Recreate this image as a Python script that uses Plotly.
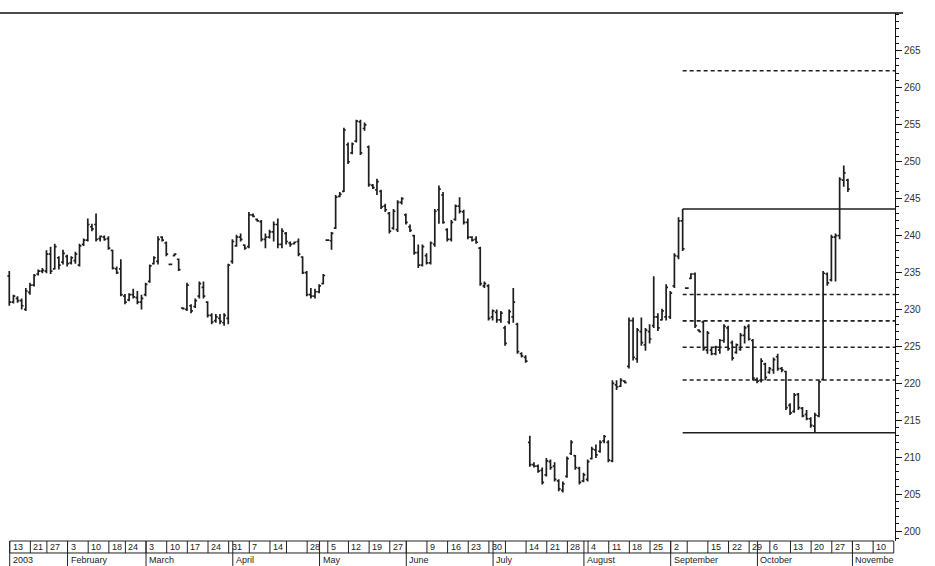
import pandas as pd
import plotly.graph_objects as go

# ---------------- data ----------------
holidays = ["2003-01-20", "2003-02-17", "2003-04-18", "2003-05-26", "2003-07-04", "2003-09-01"]
trading_days = pd.bdate_range("2003-01-13", "2003-11-14")
trading_days = trading_days[~trading_days.isin(pd.to_datetime(holidays))]

high = [
    235.2, 232.0, 231.8, 231.5, 232.9, 233.6, 234.8, 235.4, 235.6, 238.0,
    238.5, 238.9, 237.2, 238.1, 237.4, 237.2, 237.8, 238.9, 239.6, 242.3,
    241.6, 243.0, 240.0, 240.0, 239.9, 238.1, 235.8, 236.8, 232.1, 232.2,
    232.8, 232.5, 232.0, 233.6, 236.1, 237.2, 239.9, 239.9, 239.2, 236.2,
    237.6, 236.9, 230.3, 233.6, 230.7, 231.5, 233.8, 233.8, 231.1, 229.5,
    229.4, 229.4, 229.5, 236.2, 239.5,
    240.1, 240.3, 238.8, 243.2, 243.0, 242.3, 242.1, 240.3, 240.8, 241.9,
    242.3, 241.0, 240.5, 239.2, 239.2, 239.6, 237.2, 235.2, 232.9, 232.8,
    233.4, 234.8, 239.5, 240.5, 245.5, 245.9, 254.6, 252.6, 252.6, 255.7,
    255.7, 255.3, 252.2, 247.0, 247.7, 246.2, 244.3, 243.2, 243.6, 244.8,
    245.2, 243.0, 241.5, 240.1, 238.8, 238.8, 237.6, 239.2, 243.6, 246.8,
    245.9, 241.0, 242.1, 244.2, 245.2, 243.5, 242.3, 239.9, 239.9, 238.5,
    233.8, 233.4, 230.0, 230.0, 229.8, 227.8, 230.0, 232.9, 228.2, 224.2,
    223.8,
    212.9, 209.3, 209.0, 208.6, 209.9, 209.7, 209.3, 207.0, 206.7,
    210.1, 212.3, 210.3, 208.7, 207.9, 209.7, 211.4, 211.7, 212.3, 213.0,
    212.3, 220.4, 220.4, 220.7, 220.4, 228.9, 228.9, 227.5, 228.9, 227.5,
    228.0, 234.5, 229.5, 230.1, 233.4, 232.5, 237.6, 242.5, 243.6,
    233.0, 234.9, 235.0, 227.3, 228.5, 227.1, 224.8, 225.1, 226.0, 228.0,
    227.8, 225.8, 225.4, 226.8, 227.8, 228.0, 226.0, 220.8, 223.4, 222.8,
    222.2, 223.5, 224.0, 222.2, 221.7, 217.3, 218.7, 218.7, 216.8, 216.4,
    215.4, 216.0, 220.4, 235.2, 235.0, 240.1, 240.3, 247.9, 249.5, 247.7,
]
low = [
    230.5, 230.8, 230.9, 230.0, 229.8, 232.0, 233.1, 234.6, 234.9, 234.9,
    234.8, 235.4, 235.4, 236.1, 235.8, 236.1, 236.2, 235.8, 238.6, 239.2,
    240.6, 239.2, 239.2, 239.3, 238.1, 235.4, 234.8, 231.8, 230.7, 231.1,
    231.5, 230.7, 230.0, 231.8, 233.6, 236.1, 236.1, 239.2, 237.2, 236.0,
    237.2, 235.2, 230.0, 229.8, 229.5, 230.2, 231.5, 231.5, 228.9, 228.0,
    228.2, 228.0, 227.8, 228.0, 236.2,
    238.5, 239.2, 238.1, 238.3, 242.5, 241.9, 239.2, 238.3, 239.6, 239.2,
    238.3, 238.3, 238.8, 238.5, 238.8, 237.2, 234.8, 231.8, 231.5, 231.5,
    232.2, 233.4, 239.3, 238.1, 240.9, 245.2, 245.9, 249.7, 251.0, 252.6,
    250.9, 254.2, 246.6, 246.3, 245.5, 243.6, 243.2, 240.3, 240.8, 240.5,
    244.2, 241.5, 240.5, 237.4, 235.6, 235.8, 236.1, 236.1, 238.5, 241.6,
    241.6, 239.2, 239.2, 242.0, 243.0, 241.5, 239.5, 239.2, 238.9, 233.2,
    232.9, 228.5, 228.5, 228.2, 228.2, 225.1, 228.0, 228.2, 224.0, 223.5,
    222.8,
    208.7, 208.6, 207.9, 206.3, 207.4, 208.3, 206.7, 205.4, 205.2,
    207.2, 210.3, 208.3, 206.3, 206.6, 206.7, 209.7, 209.9, 210.6, 211.9,
    209.3, 209.3, 219.1, 219.5, 220.0, 222.0, 223.1, 222.8, 225.1, 224.4,
    225.4, 227.5, 227.1, 228.5, 228.5, 228.7, 232.9, 236.8, 237.9,
    232.8, 234.1, 227.5, 226.9, 224.4, 224.0, 223.8, 223.8, 224.0, 225.5,
    224.4, 223.1, 224.0, 224.4, 225.4, 225.8, 220.4, 220.0, 220.1, 220.4,
    221.3, 221.3, 221.7, 221.5, 216.4, 215.7, 216.0, 216.4, 215.4, 215.0,
    214.0, 213.3, 215.4, 220.4, 233.2, 233.8, 233.8, 239.5, 246.6, 245.9,
]
open_ = [
    234.5, 231.0, 231.5, 231.2, 230.0, 232.3, 233.3, 234.8, 235.2, 235.2,
    237.5, 235.5, 237.0, 236.4, 237.2, 236.3, 236.6, 236.0, 238.8, 239.4,
    241.2, 241.5, 239.6, 239.8, 239.6, 238.0, 235.5, 235.5, 231.8, 231.3,
    232.0, 231.6, 231.0, 232.0, 233.8, 236.2, 236.5, 239.8, 239.0, 236.1,
    237.3, 236.8, 230.2, 230.0, 230.5, 230.4, 231.8, 233.0, 231.0, 229.2,
    228.5, 228.8, 228.2, 228.8, 236.5,
    238.6, 239.8, 238.7, 238.5, 242.8, 242.2, 241.9, 239.5, 239.8, 240.5,
    241.5, 238.8, 240.3, 239.0, 238.9, 239.2, 237.1, 235.0, 232.0, 231.8,
    232.4, 233.5, 239.4, 239.3, 241.0, 245.3, 246.0, 252.3, 251.2, 252.8,
    255.4, 254.5, 252.0, 246.8, 246.2, 246.0, 244.0, 243.0, 241.0, 240.8,
    244.5, 242.8, 241.2, 240.0, 237.7, 236.0, 237.3, 236.3, 238.8, 243.5,
    245.5, 240.8, 239.5, 242.2, 244.0, 243.2, 241.8, 239.8, 239.5, 238.3,
    233.2, 233.2, 229.0, 229.6, 228.6, 227.5, 228.3, 229.0, 228.0, 224.0,
    223.5,
    212.0, 209.0, 208.8, 208.2, 207.6, 209.4, 208.8, 206.8, 205.5,
    207.4, 210.5, 210.2, 208.5, 206.8, 207.0, 209.8, 211.0, 210.8, 212.2,
    212.0, 209.5, 219.8, 219.6, 220.3, 222.3, 228.5, 223.3, 227.0, 225.2,
    227.0, 227.8, 229.0, 228.6, 229.0, 229.0, 233.2, 237.2, 242.0,
    232.9, 234.2, 234.8, 227.2, 228.3, 224.5, 224.5, 224.0, 224.5, 225.8,
    227.5, 225.5, 224.2, 224.6, 226.5, 227.7, 225.8, 220.5, 220.4, 222.6,
    221.5, 221.8, 223.6, 222.0, 221.6, 217.0, 216.2, 218.5, 216.6, 215.8,
    215.2, 214.2, 215.6, 220.5, 234.8, 234.0, 239.8, 240.0, 247.5, 247.5,
]
close = [
    231.0, 231.8, 231.2, 230.5, 232.5, 233.3, 234.6, 235.2, 235.3, 237.5,
    235.2, 238.5, 236.0, 237.6, 236.2, 237.0, 237.5, 238.6, 239.4, 241.5,
    240.9, 239.5, 239.9, 239.5, 238.3, 235.6, 235.0, 232.0, 231.0, 232.0,
    231.7, 231.0, 231.5, 233.4, 235.9, 237.0, 239.5, 239.4, 237.5, 236.1,
    237.5, 235.4, 230.1, 233.3, 229.8, 231.2, 233.5, 231.8, 229.2, 228.3,
    229.0, 228.4, 229.2, 236.0, 239.2,
    239.8, 239.5, 238.3, 242.8, 242.6, 242.0, 239.5, 239.8, 240.5, 241.5,
    238.8, 240.6, 239.2, 238.8, 239.1, 237.5, 235.0, 232.0, 231.8, 232.4,
    233.2, 234.6, 239.4, 240.3, 245.2, 245.6, 254.3, 250.0, 252.4, 255.5,
    251.2, 255.0, 246.9, 246.5, 247.3, 243.9, 243.5, 240.6, 243.3, 244.5,
    245.0, 241.8, 240.7, 237.7, 236.0, 238.5, 236.3, 239.0, 243.3, 246.3,
    241.8, 239.5, 241.8, 244.0, 243.3, 241.8, 239.8, 239.4, 239.1, 233.5,
    233.5, 228.8, 229.8, 228.6, 229.5, 225.4, 229.7, 231.0, 224.3, 223.7,
    223.0,
    209.0, 208.8, 208.1, 206.6, 209.5, 208.6, 207.0, 205.7, 206.4,
    209.8, 212.0, 208.6, 206.6, 207.6, 209.4, 211.1, 210.3, 212.0, 212.8,
    209.6, 220.0, 219.5, 220.4, 220.1, 228.5, 223.5, 227.2, 225.5, 227.2,
    226.0, 229.0, 227.5, 229.8, 233.0, 232.2, 237.3, 242.0, 238.2,
    232.9, 234.8, 227.8, 227.0, 224.7, 226.8, 224.0, 224.9, 225.8, 227.7,
    224.7, 223.4, 225.2, 226.5, 227.5, 226.0, 220.7, 220.3, 223.0, 220.8,
    222.0, 223.2, 222.0, 221.8, 216.7, 216.0, 218.4, 216.7, 215.6, 215.2,
    214.3, 215.7, 220.2, 234.9, 233.6, 239.8, 240.0, 247.6, 248.5, 246.3,
]

dates = trading_days[:len(close)]

# Fibonacci retracement ratios drawn from the September swing high to the October low
fib_ratios = [0.382, 0.5, 0.618, 0.764]
fib_extension = [1.618]

y_tick_values = list(range(200, 266, 5))

week_labels = ["13", "21", "27", "3", "10", "18", "24", "3", "10", "17", "24", "31", "7", "14", "",
               "28", "5", "12", "19", "27", "", "9", "16", "23", "30", "", "14", "21", "28", "4",
               "11", "18", "25", "2", "", "15", "22", "29", "6", "13", "20", "27", "3", "10"]
month_labels = ["2003", "February", "March", "April", "May", "June", "July", "August",
                "September", "October", "Novembe"]

# ---------------- layout helpers ----------------
pos = {d: i for i, d in enumerate(trading_days)}
x_bars = [pos[d] for d in dates]

X_MIN, X_MAX = -2.25, 214.4
Y_MIN, Y_MAX = 198.65, 270.14
SEP = 0.1
ROW1_BOTTOM = -0.0227
STRIP_BOTTOM = -0.06
ROW1_MID = -0.0118
ROW2_MID = -0.0355
FONT = "Arial, Liberation Sans, sans-serif"

week_start = [i for i in range(len(trading_days))
              if i == 0 or trading_days[i].isocalendar()[1] != trading_days[i - 1].isocalendar()[1]]
month_start = [0] + [i for i in range(1, len(trading_days))
                     if trading_days[i].month != trading_days[i - 1].month]

fig = go.Figure()
fig.add_trace(go.Ohlc(
    x=x_bars, open=open_, high=high, low=low, close=close,
    increasing=dict(line=dict(color="#1e1e1e", width=1.7)),
    decreasing=dict(line=dict(color="#1e1e1e", width=1.7)),
    tickwidth=0.45, showlegend=False, hoverinfo="skip",
))

# swing high / low and Fibonacci levels
start = max(range(140, 180), key=lambda i: high[i])
swing_hi = high[start]
swing_lo = min(low[start:])
rng = swing_hi - swing_lo
for lvl in [swing_hi, swing_lo]:
    fig.add_trace(go.Scatter(x=[x_bars[start], X_MAX], y=[lvl, lvl], mode="lines",
                             line=dict(color="#1e1e1e", width=1.6), hoverinfo="skip", showlegend=False))
for r in fib_ratios:
    lvl = swing_hi - r * rng
    fig.add_trace(go.Scatter(x=[x_bars[start], X_MAX], y=[lvl, lvl], mode="lines",
                             line=dict(color="#1e1e1e", width=1.6, dash="4px,3px"),
                             hoverinfo="skip", showlegend=False))
for r in fib_extension:
    lvl = swing_lo + r * rng
    fig.add_trace(go.Scatter(x=[x_bars[start], X_MAX], y=[lvl, lvl], mode="lines",
                             line=dict(color="#1e1e1e", width=1.6, dash="4px,3px"),
                             hoverinfo="skip", showlegend=False))

shapes = []
line_style = dict(color="#222", width=1)
# top frame line
shapes.append(dict(type="line", xref="paper", yref="paper", x0=0, x1=1.009, y0=1, y1=1,
                   line=dict(color="#111", width=1.3)))
# date strip
strip_x0 = month_start[0] + SEP
strip_x1 = 214.1
for yy in [0, ROW1_BOTTOM]:
    shapes.append(dict(type="line", xref="x", yref="paper", x0=strip_x0, x1=strip_x1, y0=yy, y1=yy,
                       line=line_style))
for i in week_start:
    shapes.append(dict(type="line", xref="x", yref="paper", x0=i + SEP, x1=i + SEP, y0=0, y1=ROW1_BOTTOM,
                       line=line_style))
for i in month_start:
    shapes.append(dict(type="line", xref="x", yref="paper", x0=i + SEP, x1=i + SEP, y0=0, y1=STRIP_BOTTOM,
                       line=line_style))
shapes.append(dict(type="line", xref="x", yref="paper", x0=strip_x1, x1=strip_x1, y0=0, y1=ROW1_BOTTOM,
                   line=line_style))

annotations = []
for i, lab in zip(week_start, week_labels):
    if lab:
        annotations.append(dict(x=i + SEP, y=ROW1_MID, xref="x", yref="paper", text=lab, showarrow=False,
                                xanchor="left", yanchor="middle", xshift=1,
                                font=dict(family=FONT, size=9, color="#222")))
for i, lab in zip(month_start, month_labels):
    annotations.append(dict(x=i + SEP, y=ROW2_MID, xref="x", yref="paper", text=lab, showarrow=False,
                            xanchor="left", yanchor="middle", xshift=1,
                            font=dict(family=FONT, size=9, color="#222")))

fig.update_layout(
    width=935, height=566,
    margin=dict(l=0, r=40, t=13, b=25),
    paper_bgcolor="white", plot_bgcolor="white",
    showlegend=False,
    shapes=shapes, annotations=annotations,
    xaxis=dict(range=[X_MIN, X_MAX], showgrid=False, zeroline=False, showticklabels=False,
               ticks="", showline=False, rangeslider=dict(visible=False), fixedrange=True),
    yaxis=dict(side="right", range=[Y_MIN, Y_MAX], showgrid=False, zeroline=False,
               showline=True, linecolor="#111", linewidth=1,
               tickmode="array", tickvals=y_tick_values, ticktext=[str(v) for v in y_tick_values],
               ticks="outside", ticklen=6, tickwidth=1, tickcolor="#111",
               minor=dict(tickmode="linear", tick0=0, dtick=1, ticks="outside", ticklen=3,
                          tickwidth=1, tickcolor="#111", showgrid=False),
               tickfont=dict(family=FONT, size=10, color="#333"), fixedrange=True),
)

fig.write_html("out.html", config={"displayModeBar": False},
               post_script="document.body.style.margin='0';document.body.style.overflow='hidden';")
